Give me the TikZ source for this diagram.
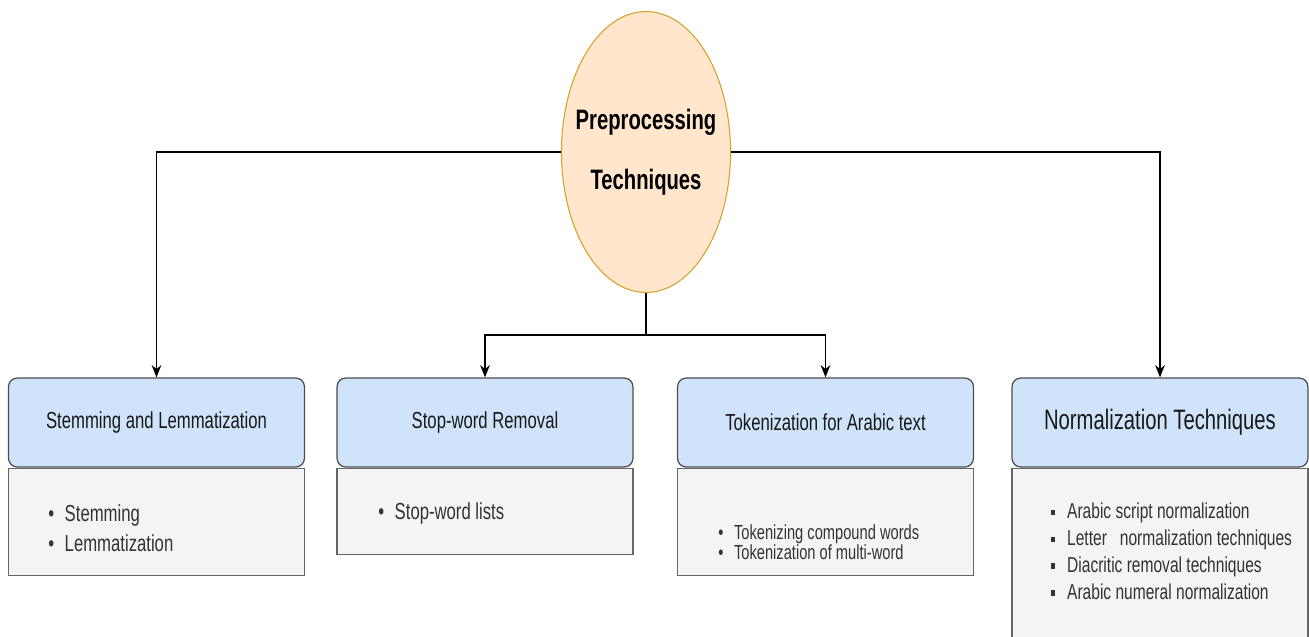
\documentclass[tikz,border=0pt]{standalone}
\usepackage{fontspec}
\setmainfont{Liberation Sans}[FakeStretch=0.72]
\usepackage{xcolor}
\usetikzlibrary{arrows.meta,shapes,positioning}

\definecolor{hblue}{RGB}{207,227,250}
\definecolor{peach}{RGB}{255,230,204}
\definecolor{gold}{RGB}{215,160,40}
\definecolor{lgray}{RGB}{244,244,244}

\begin{document}
\begin{tikzpicture}[
    x=0.02cm,y=-0.02cm,
    core/.style={ellipse,draw=gold,fill=peach,line width=0.6pt,minimum width=3.36cm,minimum height=5.62cm,inner xsep=-6pt,inner ysep=0pt,align=center,font=\fontsize{16}{34}\selectfont\bfseries},
    hbox/.style={rectangle,draw=black!70,fill=hblue,rounded corners=5pt,line width=0.7pt,minimum width=5.92cm,minimum height=1.78cm,inner sep=0pt,text=black!90,font=\fontsize{13.2}{16}\selectfont},
    lbox/.style={rectangle,draw=black!60,fill=lgray,line width=0.7pt,minimum width=5.92cm,inner sep=0pt},
    ltext/.style={anchor=west,inner sep=0pt,align=left,text=black!80,font=\fontsize{13.2}{17}\selectfont},
    arrow/.style={-{Stealth[length=7pt,width=5.5pt]},line width=0.8pt,black},
    plain/.style={line width=0.8pt,black}
]
\useasboundingbox (0,0) rectangle (1309,636);

\node[core] (prep) at (646,152) {Preprocessing\\Techniques};

% headers
\node[hbox] (stem) at (156.5,422.5) {Stemming and Lemmatization};
\node[hbox] (stop) at (485,422.5) {Stop-word Removal};
\node[hbox] (tok) at (825.5,422.5) {Tokenization for Arabic text};
\node[hbox,font=\fontsize{16}{19}\selectfont] (norm) at (1160,422.5) {Normalization Techniques};

% bodies
\node[lbox,minimum height=2.14cm,below=0pt of stem] (stemb) {};
\node[lbox,minimum height=1.72cm,below=0pt of stop] (stopb) {};
\node[lbox,minimum height=2.14cm,below=0pt of tok] (tokb) {};
\node[lbox,minimum height=4cm,below=0pt of norm] (normb) {};

\node[ltext] (stemt) at (48,528) {\textbullet\hspace{6pt}Stemming\\\textbullet\hspace{6pt}Lemmatization};
\node[ltext] (stopt) at (378,513) {\textbullet\hspace{6pt}Stop-word lists};
\node[ltext,font=\fontsize{11.6}{11.6}\selectfont] (tokt) at (718,542) {\textbullet\hspace{6pt}Tokenizing compound words\\\textbullet\hspace{6pt}Tokenization of multi-word};
\node[ltext,font=\fontsize{12.3}{15.3}\selectfont] (normt) at (1051,551) {\rule[0.3ex]{2pt}{3pt}\hspace{7pt}Arabic script normalization\\\rule[0.3ex]{2pt}{3pt}\hspace{7pt}Letter\ \ \ normalization techniques\\\rule[0.3ex]{2pt}{3pt}\hspace{7pt}Diacritic removal techniques\\\rule[0.3ex]{2pt}{3pt}\hspace{7pt}Arabic numeral normalization};

% connectors
\coordinate (split) at (646,335);
\draw[arrow] (prep.west) -| (stem.north);
\draw[arrow] (prep.east) -| (norm.north);
\draw[plain] (prep.south) -- (split);
\draw[arrow] (split) -| (stop.north);
\draw[arrow] (split) -| (tok.north);
\end{tikzpicture}
\end{document}
